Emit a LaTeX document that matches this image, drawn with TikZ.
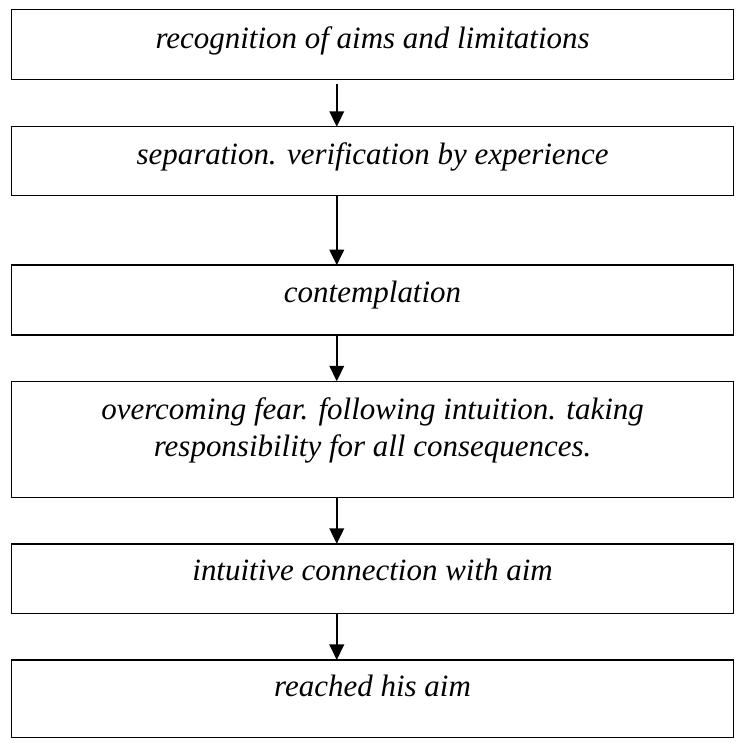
\documentclass[tikz,border=0pt]{standalone}
\usepackage{fontspec}
\setmainfont{Liberation Serif}
\usetikzlibrary{arrows.meta}
\begin{document}
\begin{tikzpicture}[x=1pt,y=-1pt,
  box/.style={draw=black,line width=1.5pt,minimum width=746pt,inner sep=0pt,outer sep=0pt},
  lbl/.style={anchor=base,inner sep=0pt,font=\fontsize{32}{38}\selectfont\itshape},
  arr/.style={line width=2pt,-{Triangle[width=15pt,length=16pt]}}]
\useasboundingbox (0,0) rectangle (770,774);
\fill[white] (0,0) rectangle (770,774);
% boxes
\node[box,minimum height=72pt] (b1) at (385,46) {};
\node[box,minimum height=71pt] (b2) at (385,166.5) {};
\node[box,minimum height=72pt] (b3) at (385,310) {};
\node[box,minimum height=120pt] (b4) at (385,454) {};
\node[box,minimum height=72pt] (b5) at (385,598) {};
\node[box,minimum height=80pt] (b6) at (385,722) {};
% texts
\node[lbl] (t1) at (385,50) {recognition of aims and limitations};
\node[lbl] (t2) at (385,170) {separation. verification by experience};
\node[lbl] (t3) at (385,313) {contemplation};
\node[lbl] (t4a) at (385,434) {overcoming fear. following intuition. taking};
\node[lbl] (t4b) at (385,472) {responsibility for all consequences.};
\node[lbl] (t5) at (385,600) {intuitive connection with aim};
\node[lbl] (t6) at (385,720) {reached his aim};
% connectors
\coordinate (ax) at (348,0);
\draw[arr] ([yshift=-5pt]b1.south -| ax) -- (b2.north -| ax);
\draw[arr] (b2.south -| ax) -- (b3.north -| ax);
\draw[arr] (b3.south -| ax) -- (b4.north -| ax);
\draw[arr] (b4.south -| ax) -- (b5.north -| ax);
\draw[arr] (b5.south -| ax) -- (b6.north -| ax);
\end{tikzpicture}
\end{document}
